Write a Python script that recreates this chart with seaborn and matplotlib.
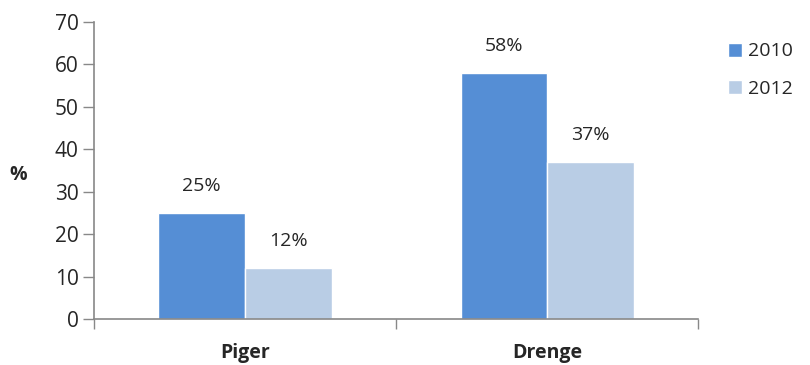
import pandas as pd
import seaborn as sns
import matplotlib.pyplot as plt
from matplotlib.ticker import FixedLocator
from matplotlib.patches import Patch

# --- Data ---
categories = ["Piger", "Drenge"]
years = ["2010", "2012"]
values_2010 = [25, 58]
values_2012 = [12, 37]
colors = {"2010": "#558ED5", "2012": "#B9CDE5"}

df = pd.DataFrame({
    "group": categories * 2,
    "year": [years[0]] * 2 + [years[1]] * 2,
    "value": values_2010 + values_2012,
})

sns.set_style("white")
plt.rcParams["font.family"] = ["Open Sans", "DejaVu Sans"]

fig = plt.figure(figsize=(8.1, 3.65), dpi=100)
ax = fig.add_axes([0.116, 0.126, 0.746, 0.814])

sns.barplot(data=df, x="group", y="value", hue="year", order=categories,
            hue_order=years, palette=colors, width=0.573, saturation=1,
            legend=False, ax=ax)

for container in ax.containers:
    ax.bar_label(container, labels=[f"{v:.0f}%" for v in container.datavalues],
                 padding=13, fontsize=14)

ax.set_ylim(0, 70)
ax.set_xlim(-0.5, 1.5)
ax.set_yticks(range(0, 71, 10))
ax.tick_params(axis="y", left=True, labelsize=15, length=8, width=1,
               color="#888888", pad=3)
ax.tick_params(axis="x", which="major", bottom=False, length=0, labelsize=14, pad=17)
ax.xaxis.set_minor_locator(FixedLocator([-0.5, 0.5, 1.5]))
ax.tick_params(axis="x", which="minor", bottom=True, length=7, width=1, color="#888888")
for lbl in ax.get_xticklabels():
    lbl.set_fontweight("bold")

ax.set_xlabel("")
ax.set_ylabel("%", rotation=0, fontsize=14, fontweight="bold")
ax.yaxis.set_label_coords(-0.125, 0.45)

for side in ["top", "right"]:
    ax.spines[side].set_visible(False)
for side in ["left", "bottom"]:
    ax.spines[side].set_color("#888888")
    ax.spines[side].set_linewidth(1.2)

handles = [Patch(facecolor=colors[y], label=y) for y in years]
fig.legend(handles=handles, loc="upper left", bbox_to_anchor=(0.889, 0.905),
           frameon=False, fontsize=14, handlelength=0.75, handleheight=0.75,
           handletextpad=0.3, labelspacing=1.0, borderaxespad=0)

plt.savefig("out.png", dpi=100)
